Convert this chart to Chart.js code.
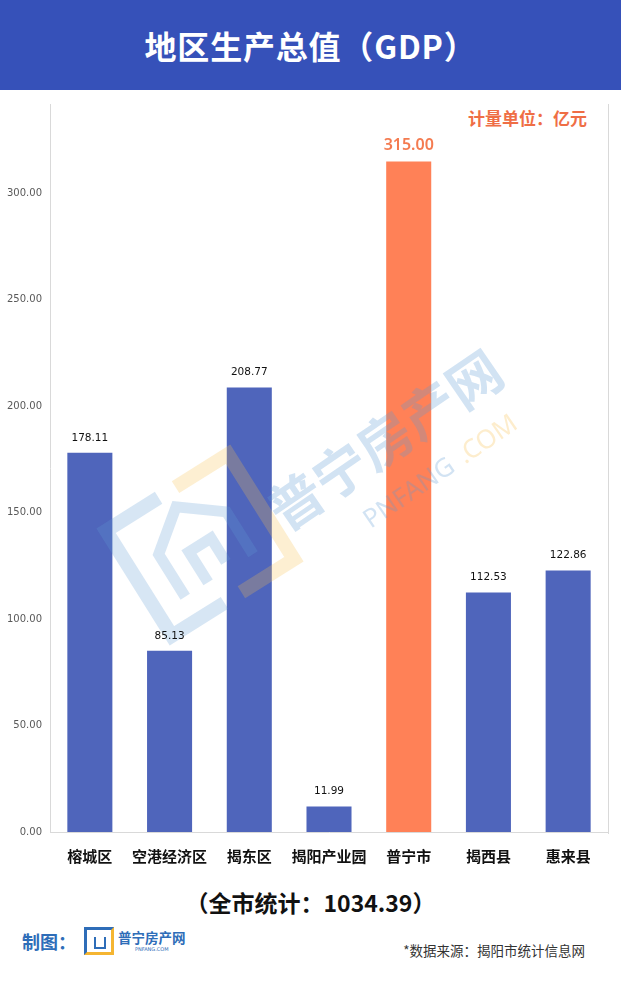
<!DOCTYPE html>
<html>
<head>
<meta charset="utf-8">
<script src="https://cdn.jsdelivr.net/npm/chart.js@4"></script>
<style>
  html,body{margin:0;padding:0;background:#fff;}
  body{width:621px;height:983px;position:relative;overflow:hidden;font-family:"Noto Sans CJK SC","Noto Sans",sans-serif;}
  #header{position:absolute;left:0;top:0;width:621px;height:90px;background:#3651B9;color:#fff;
    font-weight:700;font-size:32px;line-height:90px;text-align:center;letter-spacing:0.8px;}
  #unit{position:absolute;right:34px;top:106px;color:#EF6E45;font-weight:700;font-size:17px;line-height:24px;}
  #wrap{position:absolute;left:0;top:90px;width:621px;height:790px;}
  #total{position:absolute;left:0;width:621px;top:885px;text-align:center;font-weight:700;font-size:23px;line-height:34px;color:#111;}
  #maker{position:absolute;left:22px;top:926px;height:30px;display:flex;align-items:center;}
  #maker .lbl{color:#2E6DB8;font-weight:700;font-size:18px;}
  #maker .icon{width:30px;height:28px;border:3px solid #2E6DB8;border-right-color:#F5B531;border-bottom-color:#F5B531;box-sizing:border-box;margin-left:8px;position:relative;}
  #maker .icon:after{content:"";position:absolute;left:7px;top:7px;width:8px;height:10px;border:2px solid #2E6DB8;border-top:none;}
  #maker .name{margin-left:4px;display:flex;flex-direction:column;align-items:center;}
  #maker .name .a{color:#2E6DB8;font-weight:700;font-size:13.5px;line-height:15px;}
  #maker .name .b{color:#2E6DB8;font-size:5px;line-height:8px;font-family:"DejaVu Sans";}
  #source{position:absolute;right:36px;top:940px;font-size:13.5px;line-height:20px;color:#333;}
</style>
</head>
<body>
<div id="header">地区生产总值（GDP）</div>
<div id="unit">计量单位：亿元</div>
<div id="wrap"><canvas id="c" width="621" height="790"></canvas></div>
<div id="total">（全市统计：1034.39）</div>
<div id="maker"><span class="lbl">制图：</span><span class="icon"></span><span class="name"><span class="a">普宁房产网</span><span class="b">PNFANG.COM</span></span></div>
<div id="source">*数据来源：揭阳市统计信息网</div>
<script>
const categories = ['榕城区','空港经济区','揭东区','揭阳产业园','普宁市','揭西县','惠来县'];
const gdpValues = [178.11, 85.13, 208.77, 11.99, 315.00, 112.53, 122.86];
const yTickStep = 50;
const yAxisMax = 342;
const highlightCategory = '普宁市';

const BLUE = '#4F65BB';
const ORANGE = '#FF8157';

const labelPlugin = {
  id: 'valueLabels',
  afterDatasetsDraw(chart) {
    const ctx = chart.ctx;
    const meta = chart.getDatasetMeta(0);
    ctx.save();
    ctx.textAlign = 'center';
    ctx.textBaseline = 'middle';
    meta.data.forEach((bar, i) => {
      const v = gdpValues[i].toFixed(2);
      if (categories[i] === highlightCategory) {
        ctx.fillStyle = '#F47B50';
        ctx.font = '600 16px "Noto Sans", "Open Sans", sans-serif';
        ctx.fillText(v, bar.x, bar.y - 16);
      } else {
        ctx.fillStyle = '#111';
        ctx.font = '10.5px "DejaVu Sans", sans-serif';
        ctx.fillText(v, bar.x, bar.y - 15);
      }
    });
    ctx.restore();
  }
};

const framePlugin = {
  id: 'frame',
  afterDraw(chart) {
    const ctx = chart.ctx, a = chart.chartArea;
    ctx.save();
    ctx.strokeStyle = '#D9D9D9';
    ctx.lineWidth = 1;
    ctx.beginPath();
    ctx.moveTo(a.right + 0.5, a.top);
    ctx.lineTo(a.right + 0.5, a.bottom + 2);
    ctx.stroke();
    ctx.restore();
  }
};

const watermarkPlugin = {
  id: 'watermark',
  afterDatasetsDraw(chart) {
    const ctx = chart.ctx;
    ctx.save();
    ctx.globalAlpha = 0.25;
    ctx.translate(200, 455);
    ctx.rotate(-0.56);
    ctx.lineWidth = 14;
    ctx.strokeStyle = '#5F9AD3';
    ctx.beginPath();
    ctx.moveTo(-10, -62); ctx.lineTo(-72, -62); ctx.lineTo(-72, 62); ctx.lineTo(-10, 62);
    ctx.stroke();
    ctx.strokeStyle = '#F7C04A';
    ctx.beginPath();
    ctx.moveTo(10, -62); ctx.lineTo(72, -62); ctx.lineTo(72, 62); ctx.lineTo(10, 62);
    ctx.stroke();
    ctx.strokeStyle = '#5F9AD3';
    ctx.lineWidth = 11;
    ctx.beginPath();
    ctx.moveTo(-40, 36); ctx.lineTo(-40, -14); ctx.lineTo(0, -45); ctx.lineTo(40, -14); ctx.lineTo(40, 36);
    ctx.stroke();
    ctx.beginPath();
    ctx.moveTo(-13, 36); ctx.lineTo(-13, 0); ctx.lineTo(13, 0); ctx.lineTo(13, 28);
    ctx.stroke();
    ctx.restore();

    ctx.save();
    ctx.globalAlpha = 0.28;
    ctx.translate(385, 350);
    ctx.rotate(-0.6);
    ctx.fillStyle = '#5F9AD3';
    ctx.font = '700 54px "Noto Sans CJK SC", sans-serif';
    ctx.textAlign = 'center';
    ctx.textBaseline = 'middle';
    ctx.fillText('普宁房产网', 0, 0);
    ctx.font = '400 26px "Noto Sans", sans-serif';
    ctx.fillStyle = '#5F9AD3';
    ctx.fillText('PNFANG', -10, 58);
    ctx.fillStyle = '#F7C04A';
    ctx.fillText('.COM', 85, 58);
    ctx.restore();
  }
};

new Chart(document.getElementById('c'), {
  type: 'bar',
  data: {
    labels: categories,
    datasets: [{
      data: gdpValues,
      backgroundColor: categories.map(c => c === highlightCategory ? ORANGE : BLUE),
      barPercentage: 0.565,
      categoryPercentage: 1.0,
      borderWidth: 0
    }]
  },
  options: {
    responsive: false,
    devicePixelRatio: 1,
    animation: false,
    layout: { padding: { top: 4, right: 13, left: 0, bottom: 0 } },
    plugins: { legend: { display: false }, tooltip: { enabled: false } },
    scales: {
      x: {
        grid: { display: false, drawTicks: false },
        border: { display: true, color: '#D9D9D9', width: 1 },
        ticks: {
          color: '#111',
          font: { family: '"Noto Sans CJK SC", sans-serif', size: 15, weight: '700' },
          padding: 15,
          maxRotation: 0,
          autoSkip: false
        },
        afterFit(scale) { scale.height = 48; }
      },
      y: {
        min: 0,
        max: yAxisMax,
        grid: { display: false, drawTicks: false },
        border: { display: true, color: '#D9D9D9', width: 1 },
        ticks: {
          stepSize: yTickStep,
          color: '#595959',
          font: { family: '"DejaVu Sans", sans-serif', size: 10 },
          padding: 8,
          callback(v) { return v % yTickStep === 0 ? v.toFixed(2) : null; }
        },
        afterFit(scale) { scale.width = 50; }
      }
    }
  },
  plugins: [watermarkPlugin, labelPlugin, framePlugin]
});
</script>
</body>
</html>
